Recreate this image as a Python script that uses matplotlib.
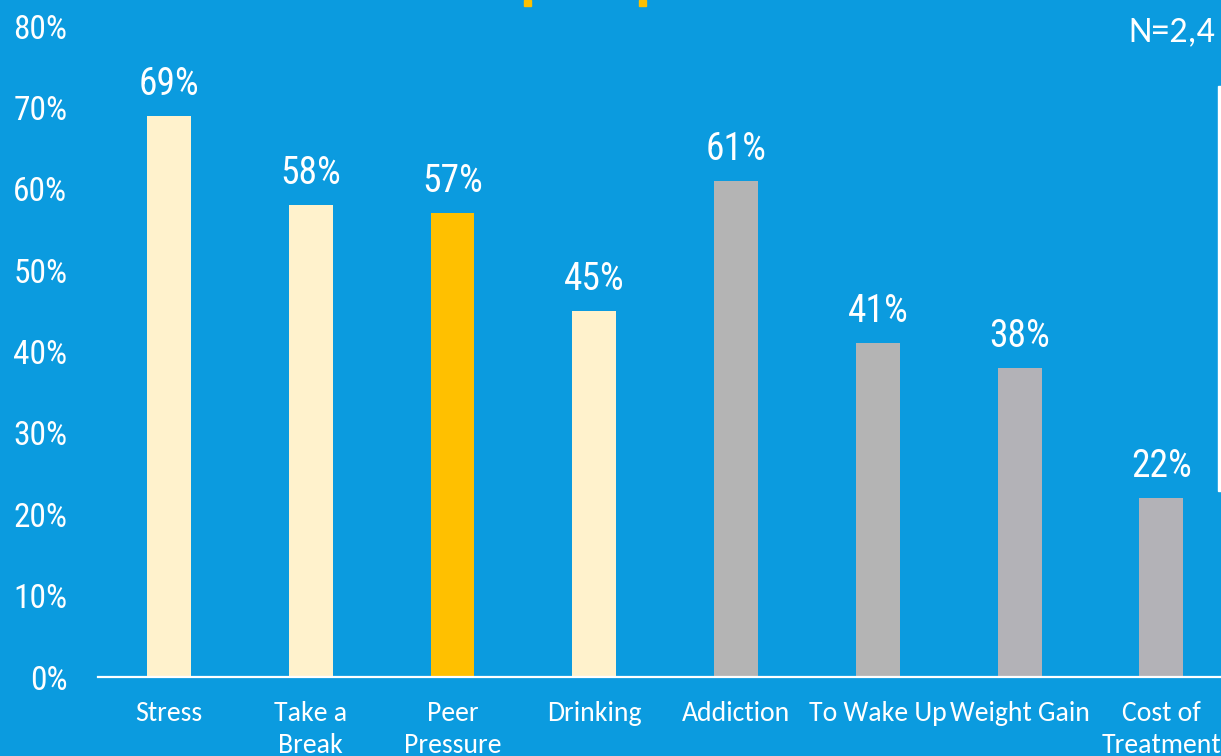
import matplotlib
matplotlib.use("Agg")
import matplotlib.pyplot as plt
from matplotlib.patches import Rectangle

# reasons, share of respondents (%)
categories = ["Stress", "Take a\nBreak", "Peer\nPressure", "Drinking", "Addiction",
              "To Wake Up", "Weight Gain", "Cost of\nTreatment"]
values = [69, 58, 57, 45, 61, 41, 38, 22]
bar_colors = ["#FFF2CC", "#FFF2CC", "#FFC000", "#FFF2CC", "#B4B4B4",
              "#B4B4B4", "#B3B2B7", "#B3B2B7"]
yticks = [0, 10, 20, 30, 40, 50, 60, 70, 80]
n_label = "N=2,4"

bg = "#0B9BDF"
num_font = ["Roboto Condensed", "DejaVu Sans"]
cat_font = ["Carlito", "DejaVu Sans"]

fig = plt.figure(figsize=(12.21, 7.56), dpi=100, facecolor=bg)
ax = fig.add_axes([98 / 1221, 79 / 756, 1 - 98 / 1221, 677 / 756])
ax.set_facecolor(bg)

x = range(len(categories))
bars = ax.bar(x, values, width=0.31, color=bar_colors, zorder=2)
for xi, v in zip(x, values):
    ax.text(xi, v + 1.6, f"{v}%", ha="center", va="bottom", color="white",
            fontsize=27, family=num_font)

ax.set_xlim(-0.5, 7.42)
ax.set_ylim(0, 83.2)
ax.set_yticks(yticks)
ax.set_yticklabels([f"{t}%" for t in yticks], family=num_font, fontsize=24, color="white")
ax.set_xticks(list(x))
ax.set_xticklabels(categories, family=cat_font, fontsize=20, color="white", linespacing=1.35)
ax.tick_params(axis="y", length=0, pad=22)
ax.tick_params(axis="x", length=0, pad=17)
for s in ["top", "right", "left"]:
    ax.spines[s].set_visible(False)
ax.spines["bottom"].set_color("white")
ax.spines["bottom"].set_linewidth(1.6)
ax.spines["bottom"].set_zorder(3)

# N label, top right
fig.text(1128 / 1221, 1 - 31 / 756, n_label, ha="left", va="center", color="white",
         fontsize=26, family=cat_font)

# decorations cut off at the edges
fig.patches.append(Rectangle((524 / 1221, 1 - 6 / 756), 7 / 1221, 6 / 756,
                             transform=fig.transFigure, color="#FFC000"))
fig.patches.append(Rectangle((639 / 1221, 1 - 6 / 756), 7 / 1221, 6 / 756,
                             transform=fig.transFigure, color="#FFC000"))
fig.patches.append(Rectangle((1218 / 1221, 1 - 491 / 756), 3 / 1221, 405 / 756,
                             transform=fig.transFigure, color="white"))

fig.savefig("out.png", dpi=100, facecolor=bg)
